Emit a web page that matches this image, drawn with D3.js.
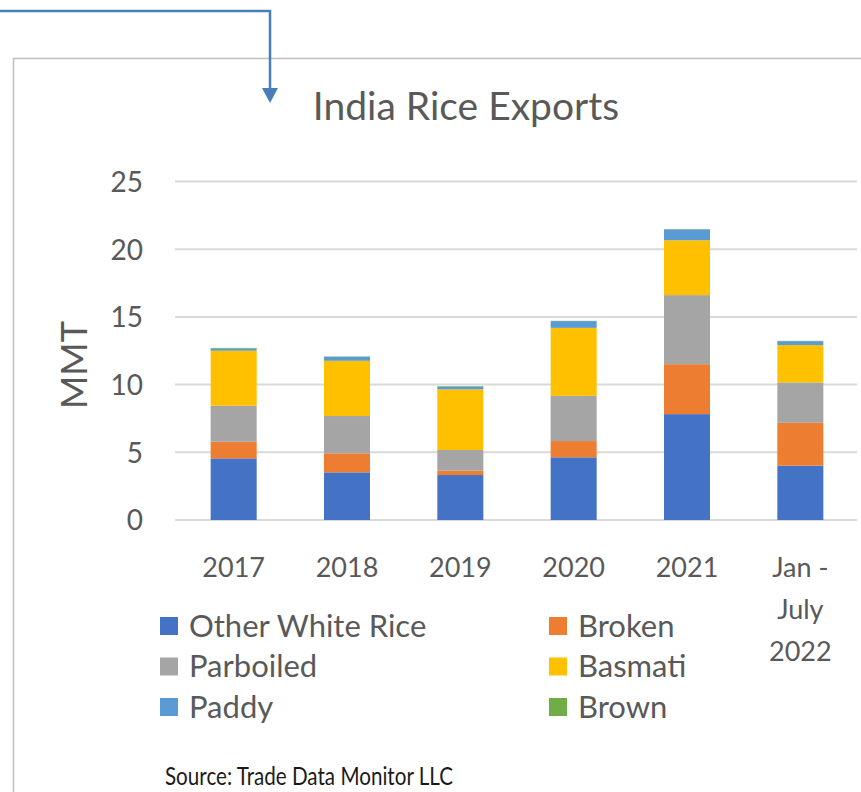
<!DOCTYPE html>
<html>
<head>
<meta charset="utf-8">
<script src="https://cdn.jsdelivr.net/npm/d3@7"></script>
<style>
  body { margin: 0; background: #fff; }
  svg { display: block; font-family: Lato, "Open Sans", sans-serif; }
</style>
</head>
<body>
<div id="chart"></div>
<script>
// categories and series (MMT)
var years = ["2017", "2018", "2019", "2020", "2021", "Jan - July 2022"];
var series = ["Other White Rice", "Broken", "Parboiled", "Basmati", "Paddy", "Brown"];
var otherWhite = [4.55, 3.52, 3.32, 4.63, 7.82, 4.01];
var broken     = [1.23, 1.40, 0.32, 1.20, 3.69, 3.17];
var parboiled  = [2.66, 2.76, 1.53, 3.34, 5.10, 2.98];
var basmati    = [4.06, 4.08, 4.48, 5.02, 4.05, 2.76];
var paddy      = [0.15, 0.30, 0.20, 0.50, 0.80, 0.29];
var brown      = [0.06, 0.02, 0.04, 0.02, 0.03, 0.02];
var yTicks = [0, 5, 10, 15, 20, 25];

var colors = ["#4472C4", "#ED7D31", "#A5A5A5", "#FFC000", "#5B9BD5", "#70AD47"];

var W = 861, H = 792;

var rows = years.map(function(y, i) {
	return {year: y, "Other White Rice": otherWhite[i], "Broken": broken[i], "Parboiled": parboiled[i],
		"Basmati": basmati[i], "Paddy": paddy[i], "Brown": brown[i]};
});
var stacked = d3.stack().keys(series)(rows);

var svg = d3.select("#chart").append("svg")
	.attr("width", W)
	.attr("height", H);

// outer frame (only top and left are visible in the crop)
svg.append("path")
	.attr("d", "M13.5," + (H + 5) + "V58.5H" + (W + 5))
	.attr("fill", "none")
	.attr("stroke", "#BFBFBF")
	.attr("stroke-width", 1.5);

// callout arrow
svg.append("path")
	.attr("d", "M0,11H270V90")
	.attr("fill", "none")
	.attr("stroke", "#4A7EBB")
	.attr("stroke-width", 2.5);
svg.append("path")
	.attr("d", "M262,88L278,88L270,103Z")
	.attr("fill", "#4A7EBB");

// scales
var x = d3.scaleBand()
	.domain(years)
	.range([177, 857])
	.paddingInner(0.594)
	.paddingOuter(0.297);

var y = d3.scaleLinear()
	.domain([0, 25])
	.range([520, 181.5]);

// gridlines
svg.append("g")
	.selectAll("line")
	.data(yTicks)
	.enter().append("line")
	.attr("x1", 175)
	.attr("x2", 857)
	.attr("y1", function(d) { return y(d); })
	.attr("y2", function(d) { return y(d); })
	.attr("stroke", "#D9D9D9")
	.attr("stroke-width", 2);

// y axis labels
var yAxis = d3.axisLeft(y).tickValues(yTicks).tickSize(0).tickPadding(0);
var yg = svg.append("g")
	.attr("transform", "translate(143,0)")
	.call(yAxis);
yg.select(".domain").remove();
yg.selectAll("text")
	.attr("font-family", "Lato, sans-serif")
	.attr("font-size", 28)
	.attr("fill", "#595959")
	.attr("dy", "0.35em");

// bars
svg.append("g")
	.selectAll("g")
	.data(stacked)
	.enter().append("g")
	.attr("fill", function(d, i) { return colors[i]; })
	.selectAll("rect")
	.data(function(d) { return d; })
	.enter().append("rect")
	.attr("x", function(d) { return x(d.data.year); })
	.attr("width", x.bandwidth())
	.attr("y", function(d) { return y(d[1]); })
	.attr("height", function(d) { return y(d[0]) - y(d[1]); });

// x labels (last one wraps onto three lines)
var xl = svg.append("g")
	.selectAll("text")
	.data(years)
	.enter().append("text")
	.attr("x", function(d) { return x(d) + x.bandwidth() / 2; })
	.attr("y", 577)
	.attr("text-anchor", "middle")
	.attr("font-size", 27)
	.attr("fill", "#595959");
xl.each(function(d) {
	var lines = d === "Jan - July 2022" ? ["Jan -", "July", "2022"] : [d];
	var t = d3.select(this);
	lines.forEach(function(l, i) {
		t.append("tspan")
			.attr("x", t.attr("x"))
			.attr("dy", i === 0 ? 0 : 42)
			.text(l);
	});
});

// title
svg.append("text")
	.attr("x", 466)
	.attr("y", 120)
	.attr("text-anchor", "middle")
	.attr("font-size", 39)
	.attr("fill", "#595959")
	.text("India Rice Exports");

// y axis title
svg.append("text")
	.attr("transform", "translate(87,365) rotate(-90)")
	.attr("text-anchor", "middle")
	.attr("font-size", 36)
	.attr("fill", "#595959")
	.text("MMT");

// legend, two columns
var legend = svg.append("g")
	.selectAll("g")
	.data(series)
	.enter().append("g")
	.attr("transform", function(d, i) {
		return "translate(" + (i % 2 === 0 ? 160 : 549) + "," + (626 + Math.floor(i / 2) * 40.5) + ")";
	});
legend.append("rect")
	.attr("x", 0)
	.attr("y", -9)
	.attr("width", 18)
	.attr("height", 18)
	.attr("fill", function(d, i) { return colors[i]; });
legend.append("text")
	.attr("x", 29)
	.attr("y", 0)
	.attr("dy", "0.35em")
	.attr("font-size", 31)
	.attr("fill", "#595959")
	.text(function(d) { return d; });

// source note (narrow face in the original, so squeeze to its width)
svg.append("text")
	.attr("x", 165)
	.attr("y", 785)
	.attr("font-size", 25)
	.attr("textLength", 288)
	.attr("lengthAdjust", "spacingAndGlyphs")
	.attr("fill", "#1a1a1a")
	.text("Source: Trade Data Monitor LLC");
</script>
</body>
</html>
